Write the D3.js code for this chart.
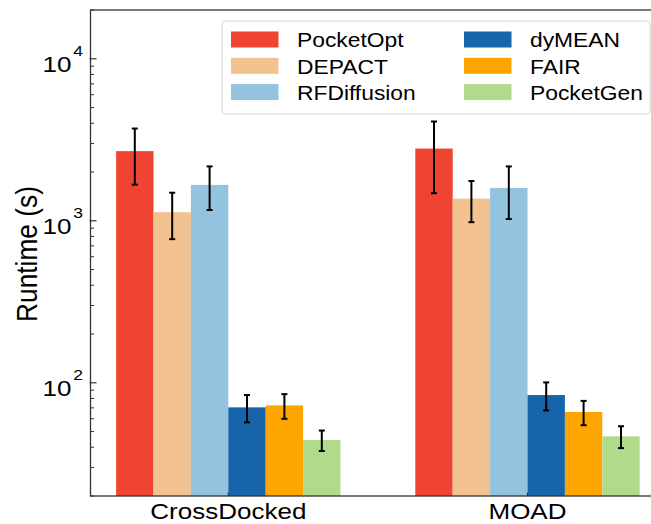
<!DOCTYPE html>
<html>
<head>
<meta charset="utf-8">
<script src="https://cdn.jsdelivr.net/npm/d3@7"></script>
<style>
  body { margin: 0; background: #fff; }
  svg { font-family: "Liberation Sans", Arial, sans-serif; }
</style>
</head>
<body>
<svg width="651" height="524"></svg>
<script>
// data
var datasets = ['CrossDocked', 'MOAD'];
var methods = ['PocketOpt', 'DEPACT', 'RFDiffusion', 'dyMEAN', 'FAIR', 'PocketGen'];
var colors = ['#EE4431', '#F2C391', '#94C3DF', '#1764AB', '#FFA500', '#B1DB8B'];
var crossDocked = [2690, 1130, 1665, 70.5, 72.5, 44.3];
var crossDockedErr = [1020, 360, 500, 13.5, 12.6, 6.4];
var moad = [2790, 1370, 1595, 84, 66, 46.7];
var moadErr = [1310, 390, 570, 16.5, 11.3, 7.2];
var yTicks = [100, 1000, 10000];

var svg = d3.select('svg');
// plot box (note: "top" is a reserved window prop, so use plot*)
var plotLeft = 90.5, plotRight = 652, plotTop = 10, plotBottom = 496;
// the original figure looks stretched sideways, so text gets widened a bit
var stretch = 1.21;

// x: group index, bars are 0.125 wide
var x = d3.scaleLinear().domain([0, 1]).range([228.3, 527.5]);
var y = d3.scaleLog().domain([20, 20000]).range([plotBottom, plotTop]);
var barW = 0.125;

var rows = [];
[crossDocked, moad].forEach(function(vals, g) {
    var errs = g === 0 ? crossDockedErr : moadErr;
    vals.forEach(function(v, i) {
        rows.push({ g: g, i: i, v: v, e: errs[i] });
    });
});

function barX(d) { return x(d.g + (d.i - 2.5) * barW); }

svg.selectAll('rect.bar')
    .data(rows)
    .enter()
    .append('rect')
    .attr('class', 'bar')
    .attr('x', d => barX(d) - (x(barW) - x(0)) / 2)
    .attr('width', x(barW) - x(0))
    .attr('y', d => y(d.v))
    .attr('height', d => plotBottom - y(d.v))
    .attr('fill', d => colors[d.i]);

// error bars
var eb = svg.selectAll('g.err')
    .data(rows)
    .enter()
    .append('g')
    .attr('class', 'err')
    .attr('stroke', '#000')
    .attr('stroke-width', 2);
eb.append('line')
    .attr('x1', barX).attr('x2', barX)
    .attr('y1', d => y(d.v + d.e)).attr('y2', d => y(d.v - d.e));
eb.append('line')
    .attr('x1', d => barX(d) - 3).attr('x2', d => barX(d) + 3)
    .attr('y1', d => y(d.v + d.e)).attr('y2', d => y(d.v + d.e));
eb.append('line')
    .attr('x1', d => barX(d) - 3).attr('x2', d => barX(d) + 3)
    .attr('y1', d => y(d.v - d.e)).attr('y2', d => y(d.v - d.e));

// minor y ticks (inward)
var minor = [];
[10, 100, 1000, 10000].forEach(function(dec) {
    for (var k = 2; k <= 9; k++) {
        var v = dec * k;
        if (v >= 20 && v <= 20000) minor.push(v);
    }
});
svg.selectAll('line.minor')
    .data(minor)
    .enter()
    .append('line')
    .attr('x1', plotLeft).attr('x2', plotLeft + 3.5)
    .attr('y1', d => y(d)).attr('y2', d => y(d))
    .attr('stroke', '#333').attr('stroke-width', 1);

svg.selectAll('line.major')
    .data(yTicks)
    .enter()
    .append('line')
    .attr('x1', plotLeft - 1).attr('x2', plotLeft + 6)
    .attr('y1', d => y(d)).attr('y2', d => y(d))
    .attr('stroke', '#333').attr('stroke-width', 1.2);

var lab = svg.selectAll('g.ylab')
    .data(yTicks)
    .enter()
    .append('g')
    .attr('transform', d => 'translate(83,' + (y(d) + 13.6) + ') scale(' + stretch + ',1)')
    .append('text')
    .attr('text-anchor', 'end')
    .attr('font-size', 21.5);
lab.append('tspan').text('10');
lab.append('tspan')
    .attr('dx', 1.5)
    .attr('dy', -16.5)
    .attr('font-size', 14.5)
    .text(d => Math.round(Math.log10(d)));

// x ticks + labels
svg.selectAll('line.xt')
    .data(datasets)
    .enter()
    .append('line')
    .attr('x1', (d, i) => x(i)).attr('x2', (d, i) => x(i))
    .attr('y1', plotBottom).attr('y2', plotBottom - 3.5)
    .attr('stroke', '#333').attr('stroke-width', 1.2);
svg.selectAll('g.xlab')
    .data(datasets)
    .enter()
    .append('g')
    .attr('transform', (d, i) => 'translate(' + x(i) + ',519) scale(' + stretch + ',1)')
    .append('text')
    .attr('text-anchor', 'middle')
    .attr('font-size', 21.5)
    .text(d => d);

// frame
svg.append('rect')
    .attr('x', plotLeft).attr('y', plotTop)
    .attr('width', plotRight - plotLeft).attr('height', plotBottom - plotTop)
    .attr('fill', 'none')
    .attr('stroke', '#333')
    .attr('stroke-width', 1.3);

// y label
svg.append('text')
    .attr('text-anchor', 'middle')
    .attr('transform', 'translate(36.5,254) scale(1.15,1) rotate(-90)')
    .attr('font-size', 26.3)
    .text('Runtime (s)');

// legend
var legend = svg.append('g');
legend.append('rect')
    .attr('x', 222).attr('y', 21)
    .attr('width', 428).attr('height', 93)
    .attr('rx', 3)
    .attr('fill', '#fff')
    .attr('stroke', '#d6d6d6')
    .attr('stroke-width', 1);
var items = legend.selectAll('g.item')
    .data(methods)
    .enter()
    .append('g')
    .attr('transform', (d, i) => 'translate(' + (i < 3 ? 231 : 464) + ',' + (39.5 + (i % 3) * 26.3) + ')');
items.append('rect')
    .attr('x', 0).attr('y', -8)
    .attr('width', 47.5).attr('height', 16)
    .attr('fill', (d, i) => colors[i]);
items.append('text')
    .attr('transform', 'translate(66,7.8) scale(1.17,1)')
    .attr('font-size', 19.5)
    .text(d => d);
</script>
</body>
</html>
